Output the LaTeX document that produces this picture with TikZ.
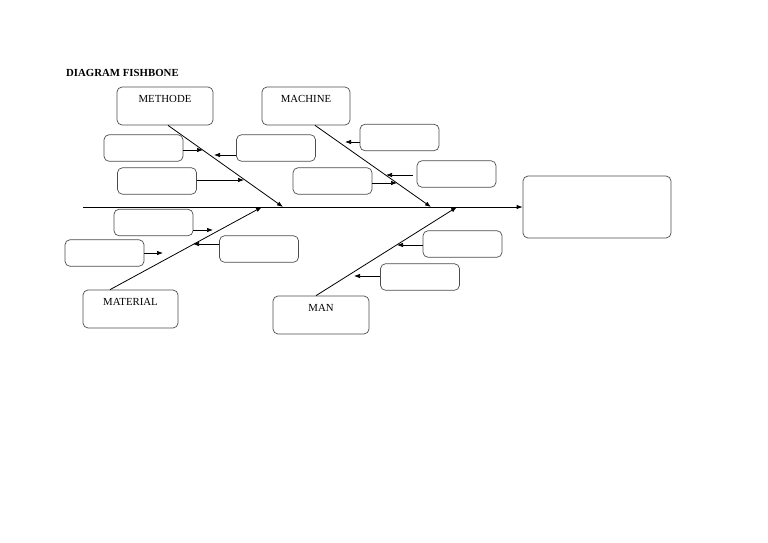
\documentclass[tikz,border=0pt]{standalone}
\usepackage{fontspec}
\setmainfont{Liberation Serif}
\usetikzlibrary{arrows.meta}

\tikzset{
  caja/.style={draw=black!70, line width=0.7pt, rounded corners=5pt,
    minimum width=79pt, minimum height=26.5pt, inner sep=0pt},
  causa/.style={caja, minimum width=96pt, text height=15.8pt,
    text depth=22.2pt, inner ysep=0pt},
  espina/.style={line width=0.8pt, -{Latex[length=6pt,width=4.5pt]}},
  flecha/.style={line width=0.7pt, -{Latex[length=6pt,width=4.5pt]}},
}

\begin{document}
\begin{tikzpicture}[x=1pt, y=-1pt, font=\fontsize{10.8}{13}\selectfont]
  \useasboundingbox (0,0) rectangle (768,543);

  % Titulo
  \node[anchor=base west, inner sep=0pt, font=\fontsize{10.8}{13}\selectfont\bfseries]
    (titulo) at (66,76) {DIAGRAM FISHBONE};

  % Cabeza y espina
  \node[caja, minimum width=148pt, minimum height=62pt] (efecto) at (597,207) {};
  \coordinate (cola) at (83,207);
  \draw[espina] (cola) -- (efecto.west);

  % Categorias
  \node[causa] (methode) at (165,106) {METHODE};
  \node[causa, minimum width=88pt] (machine) at (306,106) {MACHINE};
  \node[causa, minimum width=95pt] (material) at (130.5,309) {MATERIAL};
  \node[causa] (man) at (321,315) {MAN};

  % Puntos sobre la espina
  \coordinate (j1) at (283,207);
  \coordinate (j2) at (431,207);
  \coordinate (j3) at (262,207);
  \coordinate (j4) at (457,207);

  \draw[espina] ([xshift=3pt]methode.south) -- (j1);
  \draw[espina] ([xshift=9pt]machine.south) -- (j2);
  \draw[espina] ([xshift=-20.5pt]material.north) -- (j3);
  \draw[espina] ([xshift=-5pt]man.north) -- (j4);

  % Sub-causas
  \node[caja] (c1) at (143.5,148) {};
  \node[caja] (c2) at (157,181) {};
  \node[caja] (c3) at (276,148) {};
  \node[caja] (c4) at (399.5,137.5) {};
  \node[caja] (c5) at (332.5,181) {};
  \node[caja] (c6) at (456.5,174) {};
  \node[caja] (c7) at (153.5,222.5) {};
  \node[caja] (c8) at (104.5,253) {};
  \node[caja] (c9) at (259,249) {};
  \node[caja] (c10) at (462.5,244) {};
  \node[caja] (c11) at (420,277) {};

  % Puntas de las flechas
  \coordinate (a1) at (203,150);
  \coordinate (a2) at (244,180);
  \coordinate (a3) at (214,155);
  \coordinate (a4) at (345,142);
  \coordinate (a5) at (397,183);
  \coordinate (a6) at (386,175);
  \coordinate (a7) at (213,230);
  \coordinate (a8) at (163,253);
  \coordinate (a9) at (193,244);
  \coordinate (a10) at (397,245);
  \coordinate (a11) at (354,276);

  \draw[flecha] (c1.east |- a1) -- (a1);
  \draw[flecha] (c2.east |- a2) -- (a2);
  \draw[flecha] (c3.west |- a3) -- (a3);
  \draw[flecha] (c4.west |- a4) -- (a4);
  \draw[flecha] (c5.east |- a5) -- (a5);
  \draw[flecha] ([xshift=-4pt]c6.west |- a6) -- (a6);
  \draw[flecha] (c7.east |- a7) -- (a7);
  \draw[flecha] (c8.east |- a8) -- (a8);
  \draw[flecha] (c9.west |- a9) -- (a9);
  \draw[flecha] (c10.west |- a10) -- (a10);
  \draw[flecha] (c11.west |- a11) -- (a11);
\end{tikzpicture}
\end{document}
